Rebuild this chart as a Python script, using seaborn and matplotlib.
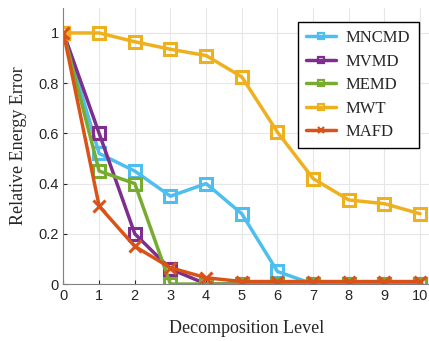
import matplotlib

matplotlib.use("Agg")

import pandas as pd
import seaborn as sns
from matplotlib import pyplot as plt
from matplotlib.lines import Line2D

levels = [0, 1, 2, 3, 4, 5, 6, 7, 8, 9, 10]
mncmd = [1.0, 0.52, 0.45, 0.35, 0.40, 0.28, 0.05, 0.0, 0.0, 0.0, 0.0]
mvmd = [1.0, 0.60, 0.20, 0.06, 0.0, 0.0, 0.0, 0.0, 0.0, 0.0, 0.0]
memd = [1.0, 0.45, 0.40, 0.0, 0.0, 0.0, 0.0, 0.0, 0.0, 0.0, 0.0]
mwt = [1.0, 1.0, 0.965, 0.935, 0.91, 0.825, 0.605, 0.42, 0.335, 0.32, 0.28]
mafd = [1.0, 0.31, 0.15, 0.065, 0.025, 0.01, 0.01, 0.01, 0.01, 0.01, 0.01]

methods = ["MNCMD", "MVMD", "MEMD", "MWT", "MAFD"]
colors = ["#4DBEEE", "#7E2F8E", "#77AC30", "#EDB120", "#D95319"]
markers = ["s", "s", "s", "s", "x"]

frame = pd.DataFrame({"level": levels, "MNCMD": mncmd, "MVMD": mvmd,
                      "MEMD": memd, "MWT": mwt, "MAFD": mafd})

sns.set_style("ticks")
plt.rcParams["font.family"] = ["Liberation Sans", "DejaVu Sans"]

fig = plt.figure(figsize=(4.29, 3.41), dpi=100)
ax = fig.add_axes([0.148, 0.167, 0.852, 0.81])

handles = []
for name, color, marker in zip(methods, colors, markers):
    sns.lineplot(data=frame, x="level", y=name, ax=ax, color=color, linewidth=2.5,
                 marker=marker, markersize=8.5 if marker == "s" else 9,
                 markerfacecolor="none", markeredgecolor=color, markeredgewidth=2.2)
    handles.append(Line2D([], [], color=color, linewidth=2.5, marker=marker,
                          markersize=5, markerfacecolor="none",
                          markeredgecolor=color, markeredgewidth=1.6, label=name))

ax.set_xlim(0, 10.25)
ax.set_ylim(0, 1.1)
ax.set_xticks(levels)
ax.set_yticks([0, 0.2, 0.4, 0.6, 0.8, 1.0])
ax.set_yticklabels(["0", "0.2", "0.4", "0.6", "0.8", "1"])
ax.tick_params(direction="in", labelsize=10.5, colors="#262626", length=3)
ax.grid(True, color="#e6e6e6", linewidth=0.8)
ax.set_axisbelow(True)
for side in ["top", "right"]:
    ax.spines[side].set_visible(False)
for side in ["left", "bottom"]:
    ax.spines[side].set_color("#808080")

ax.set_xlabel("Decomposition Level", family="Liberation Serif", fontsize=13, labelpad=12)
ax.set_ylabel("Relative Energy Error", family="Liberation Serif", fontsize=13, labelpad=8)

leg = ax.legend(handles=handles, loc="upper right", bbox_to_anchor=(0.995, 0.98),
                prop={"family": "Liberation Serif", "size": 12},
                frameon=True, fancybox=False, edgecolor="black", framealpha=1,
                handlelength=1.8, handletextpad=0.6, labelspacing=0.45, borderpad=0.5)
leg.get_frame().set_linewidth(1.0)

fig.savefig("out.png", dpi=100)
plt.close(fig)
